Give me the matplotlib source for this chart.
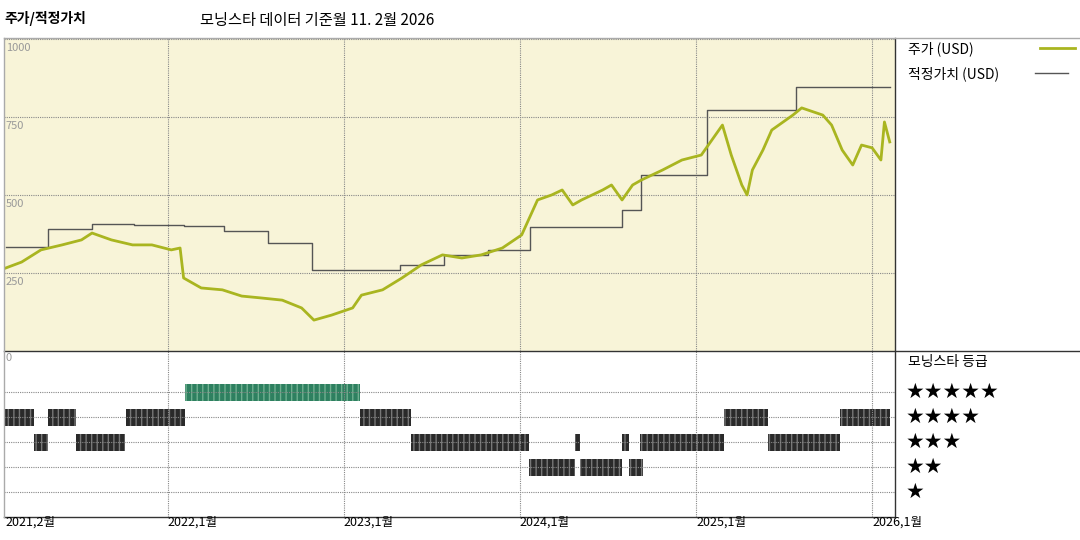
import matplotlib
matplotlib.use("Agg")
import matplotlib.pyplot as plt
from matplotlib.lines import Line2D

plt.rcParams['font.family'] = ['Noto Sans CJK KR', 'DejaVu Sans']

# ---------------------------------------------------------------------------
# Data (x in fractional years)
# ---------------------------------------------------------------------------
price_t = [2021.08, 2021.17, 2021.28, 2021.40, 2021.51, 2021.57, 2021.68, 2021.80, 2021.91,
           2022.02, 2022.07, 2022.09, 2022.19, 2022.31, 2022.42, 2022.53, 2022.65, 2022.76,
           2022.83, 2022.93, 2023.05, 2023.10, 2023.22, 2023.33, 2023.44, 2023.56, 2023.67,
           2023.78, 2023.90, 2024.01, 2024.10, 2024.18, 2024.24, 2024.30, 2024.35, 2024.47,
           2024.52, 2024.58, 2024.64, 2024.69, 2024.81, 2024.92, 2025.03, 2025.09, 2025.15,
           2025.20, 2025.26, 2025.29, 2025.32, 2025.38, 2025.43, 2025.55, 2025.60, 2025.72,
           2025.77, 2025.83, 2025.89, 2025.94, 2026.00, 2026.05, 2026.07, 2026.10]
price = [266, 285, 324, 340, 356, 378, 356, 340, 340,
         324, 330, 234, 202, 196, 176, 170, 163, 138,
         99, 115, 138, 179, 196, 234, 276, 308, 298,
         308, 330, 372, 484, 500, 516, 468, 484, 516,
         532, 484, 532, 548, 580, 612, 628, 676, 724,
         628, 532, 500, 580, 644, 708, 756, 779, 756,
         724, 644, 596, 660, 651, 612, 734, 670]

fair_t = [2021.08, 2021.32, 2021.57, 2021.81, 2022.09, 2022.32, 2022.57, 2022.82,
          2023.32, 2023.57, 2023.82, 2024.06, 2024.58, 2024.69, 2025.06, 2025.57, 2026.10]
fair = [333, 391, 407, 404, 400, 385, 346, 260,
        276, 308, 324, 397, 452, 564, 772, 846, 846]

# star rating periods: (stars, start, end)
ratings = [
    (5, 2022.10, 2023.09),
    (4, 2021.07, 2021.24), (4, 2021.32, 2021.48), (4, 2021.76, 2022.10),
    (4, 2023.09, 2023.38), (4, 2025.16, 2025.41), (4, 2025.82, 2026.10),
    (3, 2021.24, 2021.32), (3, 2021.48, 2021.76), (3, 2023.38, 2024.05),
    (3, 2024.31, 2024.34), (3, 2024.58, 2024.62), (3, 2024.68, 2025.16),
    (3, 2025.41, 2025.82),
    (2, 2024.05, 2024.31), (2, 2024.34, 2024.58), (2, 2024.62, 2024.70),
]

year_ticks = [2021.08, 2022.0, 2023.0, 2024.0, 2025.0, 2026.0]
year_labels = ["2021,2월", "2022,1월", "2023,1월", "2024,1월", "2025,1월", "2026,1월"]
price_ticks = [250, 500, 750, 1000]

# ---------------------------------------------------------------------------
# Figure
# ---------------------------------------------------------------------------
W, H = 1080, 540
fig = plt.figure(figsize=(10.8, 5.4), dpi=100)
xlim = (2021.07, 2026.13)
grid_kw = dict(color="#888888", linestyle=(0, (1, 1)), linewidth=0.8)

ax = fig.add_axes([4 / W, (H - 351) / H, 891 / W, 313 / H])
ax.set_facecolor("#f8f4d8")
ax.set_xlim(*xlim)
ax.set_ylim(0, 1003)
for v in price_ticks:
    ax.axhline(v, **grid_kw)
    ax.text(xlim[0] + 0.01, v - 12, str(v), color="#999999", fontsize=8,
            va="top", ha="left")
for t in year_ticks[1:]:
    ax.axvline(t, **grid_kw)
ax.step(fair_t, fair, where="post", color="#555555", linewidth=1)
ax.plot(price_t, price, color="#a9b520", linewidth=2)
ax.set_xticks([]); ax.set_yticks([])
for s in ax.spines.values():
    s.set_visible(False)

bx = fig.add_axes([4 / W, 23 / H, 891 / W, 166 / H])
bx.set_xlim(*xlim)
bx.set_ylim(0, 6.64)
for r in range(1, 6):
    bx.axhline(r, **grid_kw)
for t in year_ticks[1:]:
    bx.axvline(t, **grid_kw)
bx.text(xlim[0] + 0.01, 6.55, "0", color="#999999", fontsize=8, va="top")
for stars, a, b in ratings:
    fc = "#2e8060" if stars == 5 else "#2a2a2a"
    ec = "#6fb090" if stars == 5 else "#777777"
    bx.bar(a, 0.68, width=b - a, bottom=stars - 0.34, align="edge",
           color=fc, edgecolor=ec, hatch="|||", linewidth=0)
bx.set_xticks([]); bx.set_yticks([])
for s in bx.spines.values():
    s.set_visible(False)

for t, lab in zip(year_ticks, year_labels):
    xf = (4 + (t - xlim[0]) / (xlim[1] - xlim[0]) * 891) / W
    fig.text(xf if t > 2021.5 else 5 / W, 1 - 522 / H, lab, fontsize=9,
             va="center", ha="left")

# frame lines
def fl(x0, y0, x1, y1, c="#333333", lw=1):
    fig.add_artist(Line2D([x0 / W, x1 / W], [1 - y0 / H, 1 - y1 / H], color=c, linewidth=lw))

fl(895, 38, 895, 517)
fl(4, 351, 1080, 351)
fl(4, 517, 895, 517)
fl(4, 38, 1080, 38, c="#aaaaaa")
fl(4, 38, 4, 517, c="#aaaaaa")

# titles
fig.text(4 / W, 1 - 18 / H, "주가/적정가치", fontsize=10, fontweight="bold", va="center")
fig.text(200 / W, 1 - 21 / H, "모닝스타 데이터 기준월 11. 2월 2026", fontsize=11, va="center")

# legend
fig.text(908 / W, 1 - 49 / H, "주가 (USD)", fontsize=10, va="center")
fl(1040, 48, 1075, 48, c="#a9b520", lw=2)
fig.text(908 / W, 1 - 74 / H, "적정가치 (USD)", fontsize=10, va="center")
fl(1035, 73, 1068, 73, c="#555555", lw=1)
fig.text(908 / W, 1 - 362 / H, "모닝스타 등급", fontsize=10, va="center")
for r in range(1, 6):
    fig.text(906 / W, 1 - (492 - (r - 1) * 25) / H, "★" * r, fontsize=15,
             family="DejaVu Sans", va="center")

fig.savefig("out.png", dpi=100)
